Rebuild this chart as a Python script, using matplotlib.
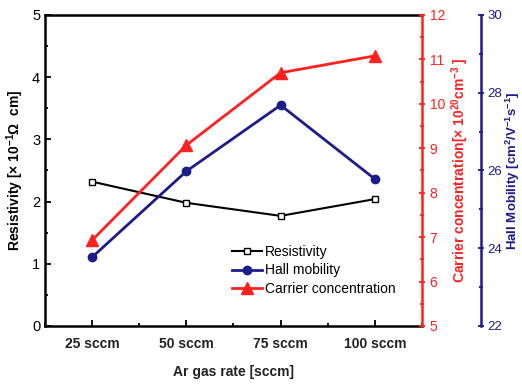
import matplotlib
matplotlib.use("Agg")
import matplotlib.pyplot as plt
from matplotlib.ticker import MultipleLocator

plt.rcParams['font.family'] = ['Liberation Sans', 'DejaVu Sans']
plt.rcParams['mathtext.fontset'] = 'custom'
plt.rcParams['mathtext.rm'] = 'Liberation Sans:bold'
plt.rcParams['mathtext.it'] = 'Liberation Sans:bold'
plt.rcParams['mathtext.bf'] = 'Liberation Sans:bold'

categories = ["25 sccm", "50 sccm", "75 sccm", "100 sccm"]
resistivity = [2.32, 1.98, 1.77, 2.04]
hall_mobility = [23.77, 25.98, 27.68, 25.78]
carrier_conc = [6.93, 9.07, 10.70, 11.08]

RED = '#ff2020'
BLUE = '#1c1c8a'

fig = plt.figure(figsize=(5.22, 3.89), dpi=100)
ax = fig.add_axes([0.0862, 0.162, 0.7222, 0.7995])
x = list(range(1, len(categories) + 1))

l1, = ax.plot(x, resistivity, color='black', lw=1.5, marker='s', ms=5,
              mfc='white', mec='black', mew=1, label='Resistivity')
ax.set_xlim(0.5, 4.5)
ax.set_ylim(0, 5)
ax.set_xticks(x)
ax.set_xticklabels(categories, fontsize=10, fontweight='bold', color='#222222')
ax.xaxis.set_minor_locator(MultipleLocator(0.5))
ax.yaxis.set_major_locator(MultipleLocator(1))
ax.yaxis.set_minor_locator(MultipleLocator(0.5))
ax.tick_params(axis='y', direction='in', labelsize=10.5, width=1.3, length=4)
ax.tick_params(axis='y', which='minor', direction='in', width=1.3, length=2)
ax.tick_params(axis='x', direction='in', width=1.3, length=4, pad=8)
ax.tick_params(axis='x', which='minor', direction='in', width=1.3, length=2)
ax.set_xlabel("Ar gas rate [sccm]", fontsize=10, fontweight='bold', labelpad=10, color='#222222')
ax.set_ylabel("Resistivity [× 10$^{-1}$Ω  cm]", fontsize=10, fontweight='bold', labelpad=4)
for s in ['top', 'bottom', 'left']:
    ax.spines[s].set_linewidth(1.8)
ax.spines['right'].set_visible(False)

ax2 = ax.twinx()
l3, = ax2.plot(x, carrier_conc, color=RED, lw=2, marker='^', ms=8,
               mfc=RED, mec=RED, label='Carrier concentration')
ax2.set_ylim(5, 12)
ax2.yaxis.set_major_locator(MultipleLocator(1))
ax2.yaxis.set_minor_locator(MultipleLocator(0.5))
ax2.spines['right'].set_color(RED)
ax2.spines['right'].set_linewidth(1.8)
for s in ['top', 'bottom', 'left']:
    ax2.spines[s].set_visible(False)
ax2.tick_params(axis='y', colors=RED, direction='inout', labelsize=10, width=1.3, length=5, pad=3)
ax2.tick_params(axis='y', which='minor', colors=RED, direction='inout', width=1.3, length=3)
ax2.set_ylabel("Carrier concentration[× 10$^{20}$cm$^{-3}$ ]", color=RED,
               fontsize=10, fontweight='bold', labelpad=3)

ax3 = ax.twinx()
ax3.spines['right'].set_position(('axes', 1.1565))
l2, = ax3.plot(x, hall_mobility, color=BLUE, lw=2, marker='o', ms=6,
               mfc=BLUE, mec=BLUE, label='Hall mobility')
ax3.set_ylim(22, 30)
ax3.yaxis.set_major_locator(MultipleLocator(2))
ax3.yaxis.set_minor_locator(MultipleLocator(1))
ax3.spines['right'].set_color(BLUE)
ax3.spines['right'].set_linewidth(1.8)
for s in ['top', 'bottom', 'left']:
    ax3.spines[s].set_visible(False)
ax3.tick_params(axis='y', colors=BLUE, direction='inout', labelsize=9.5, width=1.3, length=5, pad=2)
ax3.tick_params(axis='y', which='minor', colors=BLUE, direction='inout', width=1.3, length=3)
ax3.set_ylabel("Hall Mobility [cm$^{2}$/V$^{-1}$s$^{-1}$]", color=BLUE,
               fontsize=9.5, fontweight='bold', labelpad=1)

leg = ax.legend(handles=[l1, l2, l3], loc='lower left', bbox_to_anchor=(0.48, 0.08),
                frameon=False, fontsize=10, handlelength=2.2, handletextpad=0.2,
                labelspacing=0.3, borderaxespad=0)

fig.savefig("out.png", dpi=100)
